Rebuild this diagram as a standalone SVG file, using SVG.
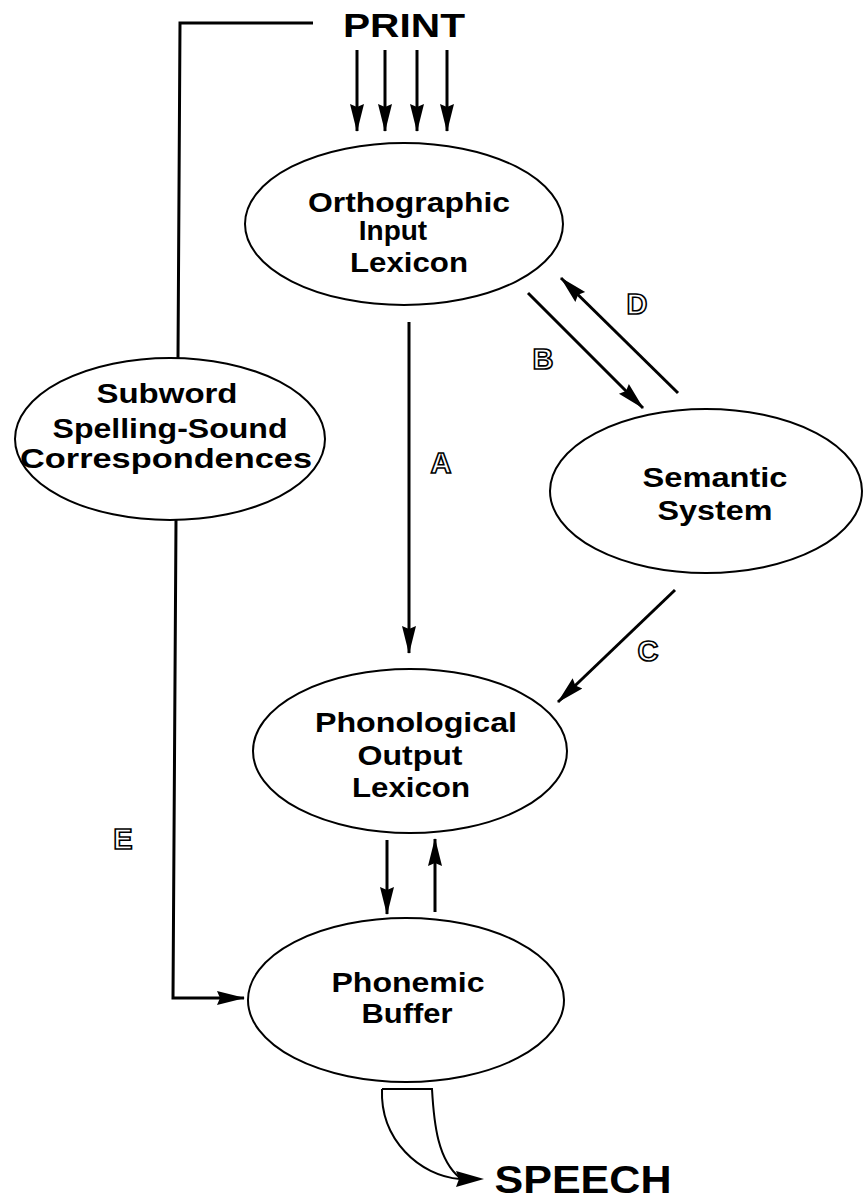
<svg xmlns="http://www.w3.org/2000/svg" width="863" height="1200" viewBox="0 0 863 1200">
<style>
.node{fill:none;stroke:#000;stroke-width:2}
.t{font-family:"Liberation Sans",Arial,sans-serif;font-weight:bold;font-size:28px;text-anchor:middle;fill:#000}
.big{font-family:"Liberation Sans",Arial,sans-serif;font-weight:bold;text-anchor:middle;fill:#000}
.lab{font-family:"Liberation Sans",Arial,sans-serif;font-weight:bold;font-size:29px;text-anchor:middle;fill:#fff;stroke:#000;stroke-width:1.6}
.c{fill:none;stroke:#000;stroke-width:3}
.c2{fill:none;stroke:#000;stroke-width:2}
</style>
<defs>
<marker id="ah" markerUnits="userSpaceOnUse" markerWidth="30" markerHeight="16" refX="27" refY="8" orient="auto" viewBox="0 0 30 16">
<path d="M0,1 L28,8 L0,15 L3,8 z" fill="#000"/>
</marker>
</defs>
<rect width="863" height="1200" fill="#fff"/>

<g id="print">
<text class="big" x="404" y="37" font-size="34" textLength="122" lengthAdjust="spacingAndGlyphs">PRINT</text>
</g>

<g id="orthographic">
<ellipse class="node" cx="404" cy="224" rx="159" ry="81"/>
<text class="t" x="409" y="212" textLength="202" lengthAdjust="spacingAndGlyphs">Orthographic</text>
<text class="t" x="393" y="240">Input</text>
<text class="t" x="409" y="272" textLength="118" lengthAdjust="spacingAndGlyphs">Lexicon</text>
</g>

<g id="subword">
<ellipse class="node" cx="170" cy="439" rx="155" ry="81"/>
<text class="t" x="167" y="403" textLength="141" lengthAdjust="spacingAndGlyphs">Subword</text>
<text class="t" x="170" y="438" textLength="235" lengthAdjust="spacingAndGlyphs">Spelling-Sound</text>
<text class="t" x="166" y="468" textLength="292" lengthAdjust="spacingAndGlyphs">Correspondences</text>
</g>

<g id="semantic">
<ellipse class="node" cx="706" cy="491" rx="156" ry="82"/>
<text class="t" x="715" y="487" textLength="145" lengthAdjust="spacingAndGlyphs">Semantic</text>
<text class="t" x="715" y="520" textLength="115" lengthAdjust="spacingAndGlyphs">System</text>
</g>

<g id="phonological">
<ellipse class="node" cx="410" cy="751" rx="157" ry="82"/>
<text class="t" x="416" y="732" textLength="202" lengthAdjust="spacingAndGlyphs">Phonological</text>
<text class="t" x="410" y="765" textLength="105" lengthAdjust="spacingAndGlyphs">Output</text>
<text class="t" x="411" y="797" textLength="118" lengthAdjust="spacingAndGlyphs">Lexicon</text>
</g>

<g id="phonemic">
<ellipse class="node" cx="406" cy="1000" rx="158" ry="82"/>
<text class="t" x="408" y="992" textLength="153" lengthAdjust="spacingAndGlyphs">Phonemic</text>
<text class="t" x="407" y="1023" textLength="91" lengthAdjust="spacingAndGlyphs">Buffer</text>
</g>

<g id="speech">
<text class="big" x="583" y="1193" font-size="39" textLength="177" lengthAdjust="spacingAndGlyphs">SPEECH</text>
</g>

<g id="connectors">
<line class="c" x1="357" y1="50" x2="357" y2="131" marker-end="url(#ah)"/>
<line class="c" x1="385" y1="50" x2="385" y2="131" marker-end="url(#ah)"/>
<line class="c" x1="417" y1="50" x2="417" y2="131" marker-end="url(#ah)"/>
<line class="c" x1="447" y1="50" x2="447" y2="131" marker-end="url(#ah)"/>
<polyline class="c" points="313,23 180,23 178,358"/>
<polyline class="c" points="176,520 173,998 244,998" marker-end="url(#ah)"/>
<line class="c" x1="409" y1="322" x2="409" y2="653" marker-end="url(#ah)"/>
<line class="c" x1="528" y1="293" x2="643" y2="408" marker-end="url(#ah)"/>
<line class="c" x1="678" y1="393" x2="561" y2="278" marker-end="url(#ah)"/>
<line class="c" x1="675" y1="590" x2="558" y2="702" marker-end="url(#ah)"/>
<line class="c" x1="387" y1="840" x2="387" y2="914" marker-end="url(#ah)"/>
<line class="c" x1="435" y1="912" x2="435" y2="839" marker-end="url(#ah)"/>
<path class="c2" d="M382,1089 L432,1089 C434,1125 438,1160 460,1178 M382,1089 C380,1140 420,1176 460,1179"/>
<path d="M484,1179 L456,1171 L459,1179 L456,1187 z" fill="#000"/>
<text class="lab" x="441" y="473">A</text>
<text class="lab" x="543" y="369">B</text>
<text class="lab" x="648" y="661">C</text>
<text class="lab" x="637" y="314">D</text>
<text class="lab" x="123" y="849">E</text>
</g>
</svg>
